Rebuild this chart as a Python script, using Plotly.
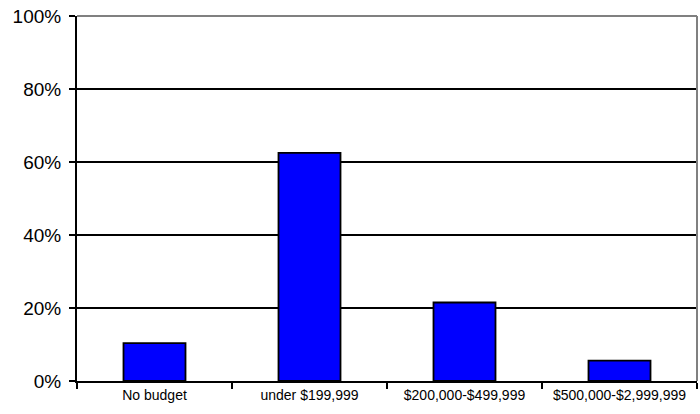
import plotly.graph_objects as go

# Budget categories and share of respondents (fraction of total)
categories = ["No budget", "under $199,999", "$200,000-$499,999", "$500,000-$2,999,999"]
shares = [0.104, 0.625, 0.215, 0.056]
y_ticks = [0, 0.2, 0.4, 0.6, 0.8, 1.0]
y_tick_labels = ["0%", "20%", "40%", "60%", "80%", "100%"]

fig = go.Figure()
fig.add_trace(go.Bar(
    x=categories,
    y=shares,
    width=0.4,
    marker=dict(color="#0000FF", line=dict(color="#000000", width=1.8)),
))

fig.update_layout(
    width=700,
    height=414,
    margin=dict(l=77, r=3, t=16, b=33),
    paper_bgcolor="white",
    plot_bgcolor="white",
    showlegend=False,
    font=dict(family="Liberation Sans, Arial, sans-serif", color="#000000"),
    xaxis=dict(
        type="category",
        tickson="boundaries",
        ticks="outside",
        ticklen=6,
        tickwidth=1.5,
        tickcolor="#000000",
        showline=True,
        linecolor="#000000",
        linewidth=2,
        showgrid=False,
        tickfont=dict(size=14),
        range=[-0.5, 3.5],
    ),
    yaxis=dict(
        range=[0, 1.0],
        tickvals=y_ticks,
        ticktext=y_tick_labels,
        ticks="outside",
        ticklen=6,
        tickwidth=1.5,
        tickcolor="#000000",
        showline=True,
        linecolor="#000000",
        linewidth=2,
        showgrid=True,
        gridcolor="#000000",
        gridwidth=1.5,
        zeroline=False,
        tickfont=dict(size=19),
        ticklabelstandoff=4,
    ),
    shapes=[
        # light plot-area frame along the top and right edges
        dict(type="line", xref="paper", yref="paper", x0=0, x1=1, y0=1, y1=1,
             line=dict(color="#808080", width=2), layer="above"),
        dict(type="line", xref="paper", yref="paper", x0=1, x1=1, y0=0, y1=1,
             line=dict(color="#808080", width=2), layer="above"),
    ],
)

fig.write_html("out.html")
